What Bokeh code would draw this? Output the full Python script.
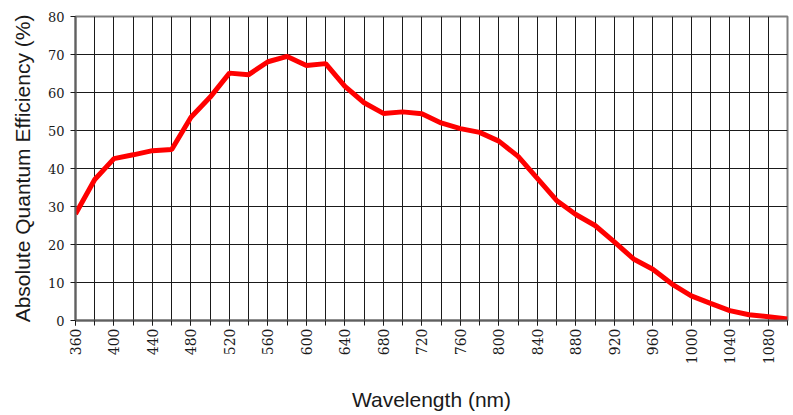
from bokeh.plotting import figure
from bokeh.models import Range1d, FixedTicker
from bokeh.embed import file_html
from bokeh.resources import INLINE
import math

wavelength = [360, 380, 400, 420, 440, 460, 480, 500, 520, 540, 560, 580, 600, 620,
              640, 660, 680, 700, 720, 740, 760, 780, 800, 820, 840, 860, 880, 900,
              920, 940, 960, 980, 1000, 1020, 1040, 1060, 1080, 1100]
qe = [28.0, 37.1, 42.6, 43.6, 44.7, 45.0, 53.5, 58.8, 65.1, 64.7, 68.1, 69.5, 67.1, 67.6,
      61.6, 57.3, 54.5, 54.9, 54.4, 52.0, 50.5, 49.5, 47.2, 43.2, 37.4, 31.6, 27.9, 25.0,
      20.7, 16.2, 13.5, 9.6, 6.5, 4.5, 2.6, 1.5, 1.0, 0.4]

x_major = list(range(360, 1081, 40))
x_grid = list(range(360, 1101, 20))
y_ticks = list(range(0, 81, 10))

p = figure(width=793, height=415, output_backend="svg", toolbar_location=None,
           x_range=Range1d(360, 1100), y_range=Range1d(0, 80),
           min_border_left=75, min_border_right=6, min_border_top=16, min_border_bottom=95)
p.background_fill_color = "white"
p.border_fill_color = "white"
p.outline_line_color = "#808080"
p.outline_line_width = 2

p.xaxis.ticker = FixedTicker(ticks=x_major, minor_ticks=x_grid)
p.yaxis.ticker = FixedTicker(ticks=y_ticks, minor_ticks=[])
p.xgrid.ticker = FixedTicker(ticks=x_grid)
p.ygrid.ticker = FixedTicker(ticks=y_ticks)
for g in (p.xgrid, p.ygrid):
    g.grid_line_color = "#1a1a1a"
    g.grid_line_width = 1

for ax in (p.xaxis, p.yaxis):
    ax.axis_line_color = "#606060"
    ax.axis_line_width = 2
    ax.major_tick_line_color = "#1a1a1a"
    ax.minor_tick_line_color = "#1a1a1a"
    ax.major_tick_in = 0
    ax.major_tick_out = 5
    ax.minor_tick_in = 0
    ax.minor_tick_out = 5
    ax.major_label_text_color = "#1a1a1a"
    ax.major_label_text_font = "DejaVu Serif"
    ax.major_label_text_font_style = "normal"
    ax.axis_label_text_font = "Liberation Sans"
    ax.axis_label_text_font_style = "normal"
    ax.axis_label_text_font_size = "21px"
    ax.axis_label_text_color = "#1a1a1a"

p.xaxis.major_label_orientation = math.pi / 2
p.xaxis.major_label_text_font_size = "14px"
p.xaxis.major_label_standoff = 3
p.xaxis.axis_label = "Wavelength (nm)"
p.xaxis.axis_label_standoff = 21

p.yaxis.major_label_text_font_size = "13px"
p.yaxis.major_label_standoff = 6
p.yaxis.axis_label = "Absolute Quantum Efficiency (%)"
p.yaxis.axis_label_standoff = 11

p.line(wavelength, qe, line_color="#ff0000", line_width=5)

open("out.html", "w").write(file_html(p, INLINE))
